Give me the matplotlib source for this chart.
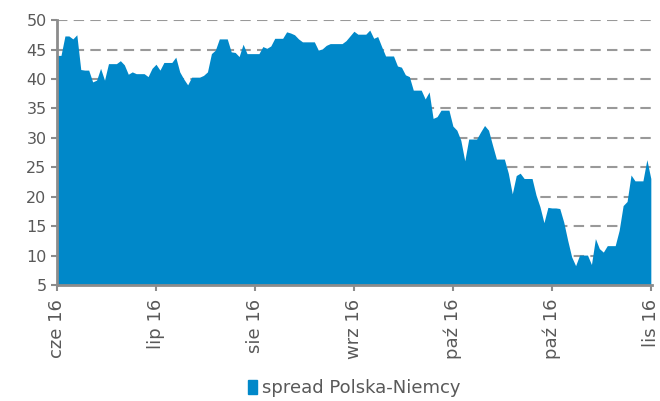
import matplotlib.pyplot as plt
import numpy as np
from matplotlib.patches import Patch

# spread PL-DE, category axis, one label every 25 points
spread = [
    44.0, 44.0, 47.3, 47.3, 46.8, 47.5, 41.6, 41.5, 41.5, 39.5,
    39.8, 41.8, 39.8, 42.6, 42.6, 42.6, 43.1, 42.4, 40.8, 41.2,
    40.9, 40.9, 40.9, 40.4, 41.8, 42.5, 41.5, 42.8, 42.8, 42.8,
    43.7, 41.2, 40.0, 39.0, 40.3, 40.3, 40.3, 40.6, 41.2, 44.3,
    44.9, 46.8, 46.8, 46.8, 44.6, 44.5, 43.8, 45.9, 44.3, 44.3,
    44.3, 44.3, 45.5, 45.2, 45.6, 46.9, 46.9, 46.9, 48.0, 47.8,
    47.5, 46.8, 46.3, 46.3, 46.3, 46.3, 44.9, 45.1, 45.7, 46.0,
    46.0, 46.0, 46.0, 46.5, 47.3, 48.1, 47.6, 47.6, 47.6, 48.3,
    46.9, 47.2, 45.5, 43.9, 43.9, 43.9, 42.2, 42.0, 40.7, 40.4,
    38.1, 38.1, 38.1, 36.6, 37.8, 33.3, 33.6, 34.7, 34.7, 34.7,
    32.0, 31.3, 29.6, 26.1, 29.8, 29.8, 29.8, 31.0, 32.1, 31.3,
    28.8, 26.4, 26.4, 26.4, 24.0, 20.5, 23.6, 24.0, 23.1, 23.1,
    23.1, 20.3, 18.3, 15.6, 18.2, 18.1, 18.1, 18.0, 15.7, 12.6,
    9.8, 8.3, 10.1, 10.1, 10.1, 8.5, 12.9, 11.2, 10.6, 11.7,
    11.7, 11.7, 14.3, 18.5, 19.2, 23.7, 22.7, 22.7, 22.7, 26.3,
    23.1,
]
tick_labels = ['cze 16', 'lip 16', 'sie 16', 'wrz 16', 'paź 16', 'paź 16', 'lis 16']
label_step = 25
series_name = 'spread Polska-Niemcy'

blue = '#0088c9'
grey = '#8c8c8c'
text_grey = '#595959'

x = np.arange(len(spread))

fig = plt.figure(figsize=(6.6, 4.01), dpi=100)
ax = fig.add_axes([0.0864, 0.289, 0.9015, 0.661])

ax.fill_between(x, 5, spread, color=blue, lw=0, zorder=2)

ax.set_xlim(0, len(spread) - 0.7)
ax.set_ylim(5, 50)
ax.set_yticks(np.arange(5, 51, 5))
ax.set_xticks(np.arange(len(tick_labels)) * label_step)
ax.set_xticklabels(tick_labels, rotation=90)

for v in range(10, 51, 5):
    ax.axhline(v, color='#999999', lw=1.5, ls=(0, (5, 3)), zorder=1)

for side in ['top', 'right']:
    ax.spines[side].set_visible(False)
for side in ['left', 'bottom']:
    ax.spines[side].set_color(grey)
    ax.spines[side].set_linewidth(2)
    ax.spines[side].set_zorder(3)

ax.tick_params(axis='both', colors=grey, length=4, width=1.5, labelsize=11.5,
               labelcolor=text_grey)
ax.tick_params(axis='x', pad=6, labelsize=13)

ax.legend(handles=[Patch(color=blue, label=series_name)], loc='center',
          bbox_to_anchor=(0.5, -0.389), frameon=False, fontsize=13,
          handlelength=0.5, handleheight=0.85, handletextpad=0.3,
          labelcolor=text_grey)

fig.savefig('out.png', dpi=100)
